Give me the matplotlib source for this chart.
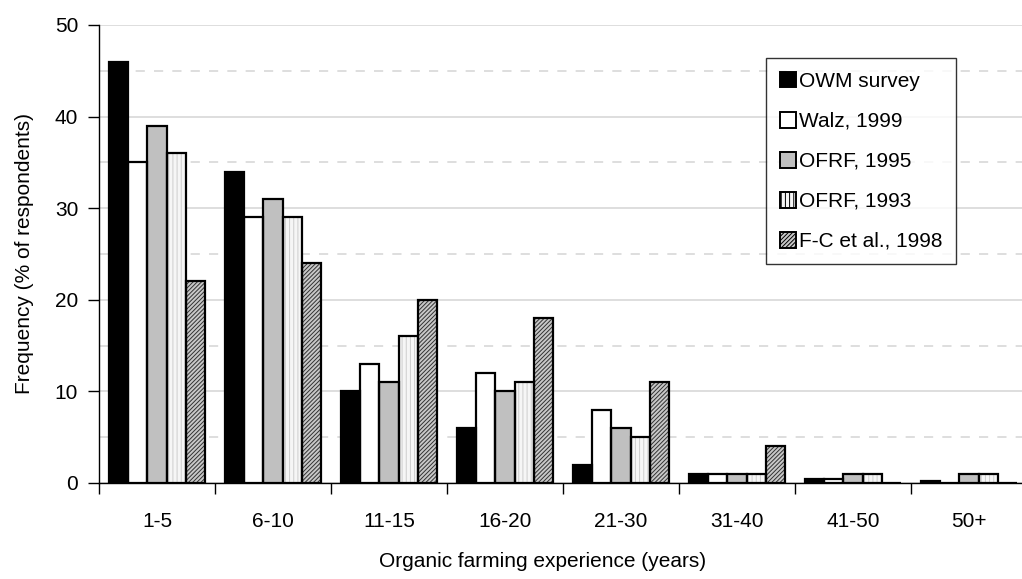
import numpy as np
import matplotlib.pyplot as plt
from matplotlib.patches import Patch

plt.rcParams['font.family'] = ['Liberation Sans', 'DejaVu Sans']
plt.rcParams['hatch.linewidth'] = 0.7

categories = ['1-5', '6-10', '11-15', '16-20', '21-30', '31-40', '41-50', '50+']
series_names = ['OWM survey', 'Walz, 1999', 'OFRF, 1995', 'OFRF, 1993', 'F-C et al., 1998']
owm = [46, 34, 10, 6, 2, 1, 0.4, 0.2]
walz = [35, 29, 13, 12, 8, 1, 0.4, 0]
ofrf95 = [39, 31, 11, 10, 6, 1, 1, 1]
ofrf93 = [36, 29, 16, 11, 5, 1, 1, 1]
fc = [22, 24, 20, 18, 11, 4, 0, 0]
series = [owm, walz, ofrf95, ofrf93, fc]

# face, hatch, hatch colour
styles = [
    ('black', '', 'black'),
    ('white', '', 'black'),
    ('#c0c0c0', '', 'black'),
    ('#f6f6f6', '||||', '#cccccc'),
    ('#c8c8c8', '////////', '#333333'),
]

FS = 15

fig = plt.figure(figsize=(10.22, 5.79), dpi=100)
ax = fig.add_axes([99 / 1022, 1 - 483 / 579, 928 / 1022, 458 / 579])

x = np.arange(len(categories))
w = 0.166
for i, (vals, (fc_, hatch, hc)) in enumerate(zip(series, styles)):
    pos = x + (i - 2) * w
    if hatch:
        ax.bar(pos, vals, w, color=fc_, hatch=hatch, edgecolor=hc, linewidth=0, zorder=2)
    else:
        ax.bar(pos, vals, w, color=fc_, linewidth=0, zorder=2)
    ax.bar(pos, vals, w, fill=False, edgecolor='black', linewidth=1.6, zorder=3)

ax.set_xlim(-0.5, len(categories) - 0.5)
ax.set_ylim(0, 50)
ax.set_yticks(np.arange(0, 51, 10))
ax.set_yticks(np.arange(5, 50, 10), minor=True)
ax.grid(axis='y', which='major', color='#d4d4d4', linewidth=1.1, zorder=0)
ax.grid(axis='y', which='minor', color='#d4d4d4', linewidth=1.1, linestyle=(0, (6, 6)), zorder=0)
ax.set_axisbelow(True)

ax.set_xticks(np.arange(-0.5, len(categories), 1))
ax.set_xticklabels([])
ax.set_xticks(x, minor=True)
ax.set_xticklabels(categories, minor=True)
ax.tick_params(axis='x', which='major', length=8, width=1, direction='out')
ax.tick_params(axis='x', which='minor', length=0, pad=21, labelsize=FS)
ax.tick_params(axis='y', which='major', length=8, width=1, labelsize=FS, pad=7)
ax.tick_params(axis='y', which='minor', length=0)

for s in ['top', 'right']:
    ax.spines[s].set_visible(False)
ax.spines['left'].set_linewidth(1)
ax.spines['bottom'].set_linewidth(1)

ax.set_ylabel('Frequency (% of respondents)', fontsize=FS)
ax.yaxis.set_label_coords(-0.07, 0.5)
ax.set_xlabel('Organic farming experience (years)', fontsize=FS)
ax.xaxis.set_label_coords(0.478, -0.15)

handles = []
for name, (fc_, hatch, hc) in zip(series_names, styles):
    handles.append(Patch(facecolor=fc_, hatch=hatch, edgecolor='black', linewidth=1.4, label=name))
leg = fig.legend(handles=handles, loc='upper left', bbox_to_anchor=(766 / 1022, 1 - 58 / 579),
                 fontsize=FS, frameon=True, fancybox=False, edgecolor='black',
                 handlelength=0.8, handleheight=0.8, handletextpad=0.15,
                 labelspacing=1.0, borderpad=0.65, borderaxespad=0)
leg.get_frame().set_linewidth(1)

fig.savefig('out.png', dpi=100)
